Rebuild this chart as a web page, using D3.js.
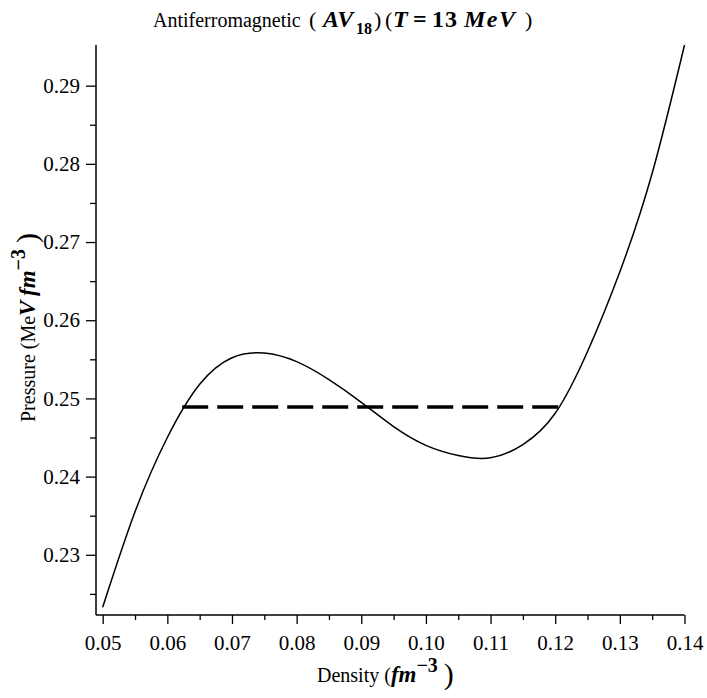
<!DOCTYPE html>
<html lang="en">
  <head>
    <meta charset="UTF-8" />
    <title>Antiferromagnetic AV18</title>
    <style>
      body { margin: 0; background: #fff; }
      svg text { font-family: "Liberation Serif", "Times New Roman", serif; fill: #000; }
    </style>
  </head>
  <body>
    <div id="chart">
      <svg width="707" height="698"></svg>
    </div>
    <script src="https://d3js.org/d3.v7.min.js"></script>
    <script>
      // values
      var density = [0.05, 0.055, 0.06, 0.065, 0.07, 0.075, 0.08, 0.085, 0.09, 0.095,
                     0.10, 0.105, 0.11, 0.115, 0.12, 0.125, 0.13, 0.135, 0.14];
      var pressure = [0.2233, 0.2355, 0.2450, 0.2518, 0.2552, 0.2558, 0.2547, 0.2524, 0.2495, 0.2464,
                      0.2440, 0.2427, 0.2424, 0.2441, 0.2481, 0.2560, 0.2662, 0.2788, 0.2952];
      // Maxwell construction (dashed line)
      var maxwellDensity = [0.0623, 0.1206];
      var maxwellPressure = 0.2489;

      var xTicks = [0.05, 0.06, 0.07, 0.08, 0.09, 0.10, 0.11, 0.12, 0.13, 0.14];
      var xMinor = [0.055, 0.065, 0.075, 0.085, 0.095, 0.105, 0.115, 0.125, 0.135];
      var yTicks = [0.23, 0.24, 0.25, 0.26, 0.27, 0.28, 0.29];
      var yMinor = [0.225, 0.235, 0.245, 0.255, 0.265, 0.275, 0.285];

      var svg = d3.select("#chart>svg");
      var plotLeft = 96, plotBottom = 615, plotTop = 45;

      var x = d3.scaleLinear().domain([0.05, 0.14]).range([102.7, 684.5]);
      var y = d3.scaleLinear().domain([0.2223, 0.2952]).range([plotBottom, plotTop]);

      var data = density.map(function (d, i) {
        return { density: d, pressure: pressure[i] };
      });

      // x axis
      var gx = svg.append("g").attr("transform", "translate(0," + plotBottom + ")");
      gx.call(d3.axisBottom(x).tickValues(xTicks).tickFormat(d3.format(".2f")).tickSize(9).tickPadding(11));
      gx.append("g").call(d3.axisBottom(x).tickValues(xMinor).tickFormat("").tickSize(5));
      gx.selectAll(".domain").remove();
      gx.attr("font-family", null).attr("font-size", null);
      gx.selectAll("g").attr("font-family", null).attr("font-size", null);
      gx.selectAll("text").attr("font-size", 21);
      gx.selectAll("line").attr("stroke-width", 1.3);
      gx.append("line")
        .attr("x1", plotLeft)
        .attr("x2", x.range()[1])
        .attr("stroke", "#000")
        .attr("stroke-width", 1.5);

      // y axis
      var gy = svg.append("g").attr("transform", "translate(" + plotLeft + ",0)");
      gy.call(d3.axisLeft(y).tickValues(yTicks).tickFormat(d3.format(".2f")).tickSize(10).tickPadding(6));
      gy.append("g").call(d3.axisLeft(y).tickValues(yMinor).tickFormat("").tickSize(6));
      gy.selectAll(".domain").remove();
      gy.attr("font-family", null).attr("font-size", null);
      gy.selectAll("g").attr("font-family", null).attr("font-size", null);
      gy.selectAll("text").attr("font-size", 21);
      gy.selectAll("line").attr("stroke-width", 1.3);
      gy.append("line")
        .attr("y1", plotTop)
        .attr("y2", plotBottom)
        .attr("stroke", "#000")
        .attr("stroke-width", 1.5);

      // curve
      var line = d3
        .line()
        .x(function (d) { return x(d.density); })
        .y(function (d) { return y(d.pressure); })
        .curve(d3.curveNatural);

      svg.append("path")
        .datum(data)
        .attr("fill", "none")
        .attr("stroke", "#000")
        .attr("stroke-width", 1.5)
        .attr("d", line);

      svg.append("line")
        .attr("x1", x(maxwellDensity[0]))
        .attr("x2", x(maxwellDensity[1]))
        .attr("y1", y(maxwellPressure))
        .attr("y2", y(maxwellPressure))
        .attr("stroke", "#000")
        .attr("stroke-width", 3.4)
        .attr("stroke-dasharray", "26,9");

      // title
      var title = svg.append("text").attr("y", 27).attr("font-size", 20);
      title.append("tspan").attr("x", 153).text("Antiferromagnetic");
      title.append("tspan").attr("x", 309).attr("font-size", 22).text("(");
      title.append("tspan").attr("x", 323).attr("font-weight", "bold").attr("font-style", "italic").attr("font-size", 24).text("AV");
      title.append("tspan").attr("x", 356).attr("font-weight", "bold").attr("font-size", 16).attr("dy", 7).text("18");
      title.append("tspan").attr("x", 374).attr("dy", -7).attr("font-size", 22).text(")");
      title.append("tspan").attr("x", 385).attr("font-size", 22).text("(");
      title.append("tspan").attr("x", 393).attr("font-weight", "bold").attr("font-style", "italic").attr("font-size", 24).text("T");
      title.append("tspan").attr("x", 413).attr("font-weight", "bold").attr("font-size", 24).text("=");
      title.append("tspan").attr("x", 432).attr("font-weight", "bold").attr("font-size", 24).attr("letter-spacing", 1).text("13");
      title.append("tspan").attr("x", 464).attr("font-weight", "bold").attr("font-style", "italic").attr("font-size", 24).attr("letter-spacing", 1.5).text("MeV");
      title.append("tspan").attr("x", 525).attr("font-size", 22).text(")");

      // x label
      var xl = svg.append("text").attr("x", 317).attr("y", 682).attr("font-size", 20);
      xl.append("tspan").text("Density (");
      xl.append("tspan").attr("font-weight", "bold").attr("font-style", "italic").attr("font-size", 23).text("fm");
      xl.append("tspan").attr("font-weight", "bold").attr("font-size", 20).attr("dy", -10).text("\u22123");
      xl.append("tspan").attr("font-size", 30).attr("dy", 12).text("\u2009)");

      // y label
      var yl = svg.append("text")
        .attr("transform", "translate(35,422) rotate(-90)")
        .attr("font-size", 20);
      yl.append("tspan").text("Pressure (Me");
      yl.append("tspan").attr("font-weight", "bold").attr("font-style", "italic").attr("font-size", 23).text("V\u2009fm");
      yl.append("tspan").attr("font-weight", "bold").attr("font-size", 20).attr("dy", -10).text("\u22123");
      yl.append("tspan").attr("font-size", 30).attr("dy", 12).text("\u2009)");
    </script>
  </body>
</html>
